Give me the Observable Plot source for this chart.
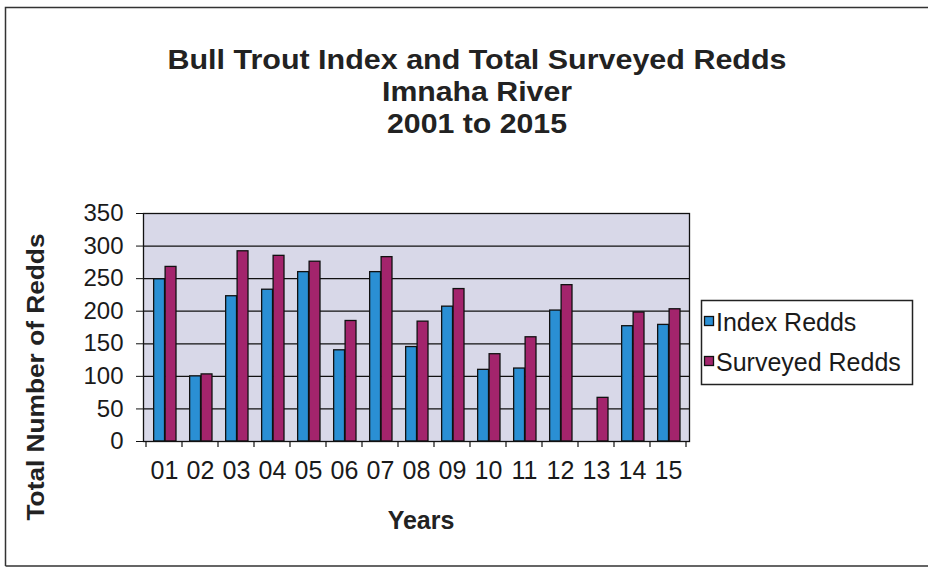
<!DOCTYPE html>
<html><head><meta charset="utf-8">
<script src="https://cdn.jsdelivr.net/npm/d3@7"></script>
<script src="https://cdn.jsdelivr.net/npm/@observablehq/plot@0.6"></script>
<style>
body{margin:0;background:#fff;}
#chart{width:928px;height:572px;}
</style>
</head><body><div id="chart"></div>
<script>
const years = ["01","02","03","04","05","06","07","08","09","10","11","12","13","14","15"];
const indexRedds = [249,100,223,233,260,140,260,145,207,110,112,201,null,177,179];
const surveyedRedds = [268,103,292,285,276,185,283,184,234,134,160,240,67,198,203];
const yTicks = [0,50,100,150,200,250,300,350];
const seriesNames = ["Index Redds","Surveyed Redds"];
const seriesColors = ["#2a8fd4","#a3246c"];
const titleLines = ["Bull Trout Index and Total Surveyed Redds","Imnaha River","2001 to 2015"];
const yLabel = "Total Number of Redds";
const xLabel = "Years";

const W = 928, H = 572;
const mL = 143, mR = 239, mT = 213, mB = 131;
const bw = (W - mL - mR) / years.length;

const indexData = years.map((y, i) => ({year: y, value: indexRedds[i]})).filter(d => d.value != null);
const surveyedData = years.map((y, i) => ({year: y, value: surveyedRedds[i]})).filter(d => d.value != null);

const font = "'Liberation Sans', Arial, Helvetica, sans-serif";

const plot = Plot.plot({
  width: W, height: H,
  marginLeft: mL, marginRight: mR, marginTop: mT, marginBottom: mB,
  style: {fontFamily: font, background: "#fff", color: "#1a1a1a", overflow: "visible"},
  x: {type: "band", domain: years, padding: 0, label: null},
  y: {domain: [0, 350], label: null},
  marks: [
    Plot.frame({fill: "#d8d8e8"}),
    Plot.ruleY(yTicks, {stroke: "#111", strokeWidth: 1.2}),
    Plot.barY(indexData, {x: "year", y: "value", fill: seriesColors[0], stroke: "#111", strokeWidth: 1.3,
      insetLeft: bw * 0.21, insetRight: bw * 0.48}),
    Plot.barY(surveyedData, {x: "year", y: "value", fill: seriesColors[1], stroke: "#111", strokeWidth: 1.3,
      insetLeft: bw * 0.525, insetRight: bw * 0.165}),
    Plot.frame({stroke: "#111", strokeWidth: 1.3}),
    Plot.axisY({ticks: yTicks, tickSize: 7, tickPadding: 13, fontSize: 24, label: null, stroke: "#111"}),
    Plot.axisX({tickSize: 0, tickPadding: 20, fontSize: 25, label: null})
  ]
});
document.getElementById("chart").appendChild(plot);

const svg = d3.select(plot);
const xs = plot.scale("x");
const bounds = years.map(y => xs.apply(y));
bounds.push(xs.apply(years[years.length - 1]) + xs.bandwidth);
const yBase = H - mB;
svg.append("g").selectAll("line").data(bounds).join("line")
  .attr("x1", d => d).attr("x2", d => d)
  .attr("y1", yBase).attr("y2", yBase + 6)
  .attr("stroke", "#111").attr("stroke-width", 1.2);

// outer border (left, top, bottom)
svg.append("path")
  .attr("d", "M5.5,566 L5.5,7.5 L928,7.5 M5.5,566 L928,566")
  .attr("fill", "none").attr("stroke", "#333").attr("stroke-width", 1.5);

// title
const tLen = [619, 190, 180];
const tBase = [69, 101, 133];
titleLines.forEach((t, i) => {
  svg.append("text").text(t)
    .attr("x", 477).attr("y", tBase[i])
    .attr("text-anchor", "middle")
    .attr("font-family", font).attr("font-weight", "bold").attr("font-size", 27)
    .attr("textLength", tLen[i]).attr("lengthAdjust", "spacingAndGlyphs")
    .attr("fill", "#222");
});

// y label
svg.append("text").text(yLabel)
  .attr("transform", "translate(44,377) rotate(-90)")
  .attr("text-anchor", "middle")
  .attr("font-family", font).attr("font-weight", "bold").attr("font-size", 24)
  .attr("textLength", 287).attr("lengthAdjust", "spacingAndGlyphs")
  .attr("fill", "#222");

// x label
svg.append("text").text(xLabel)
  .attr("x", 421).attr("y", 529)
  .attr("text-anchor", "middle")
  .attr("font-family", font).attr("font-weight", "bold").attr("font-size", 25)
  .attr("fill", "#222");

// legend
const lg = svg.append("g");
lg.append("rect").attr("x", 701.5).attr("y", 300.5).attr("width", 211).attr("height", 84)
  .attr("fill", "#fff").attr("stroke", "#222").attr("stroke-width", 1.5);
seriesNames.forEach((name, i) => {
  const yy = [331, 371][i];
  lg.append("rect").attr("x", 704.5).attr("y", yy - 14.5).attr("width", 9).attr("height", 9)
    .attr("fill", seriesColors[i]).attr("stroke", "#111").attr("stroke-width", 1.3);
  lg.append("text").text(name).attr("x", 716).attr("y", yy)
    .attr("text-anchor", "start")
    .attr("font-family", font).attr("font-size", 25).attr("fill", "#1a1a1a");
});
</script>
</body></html>
